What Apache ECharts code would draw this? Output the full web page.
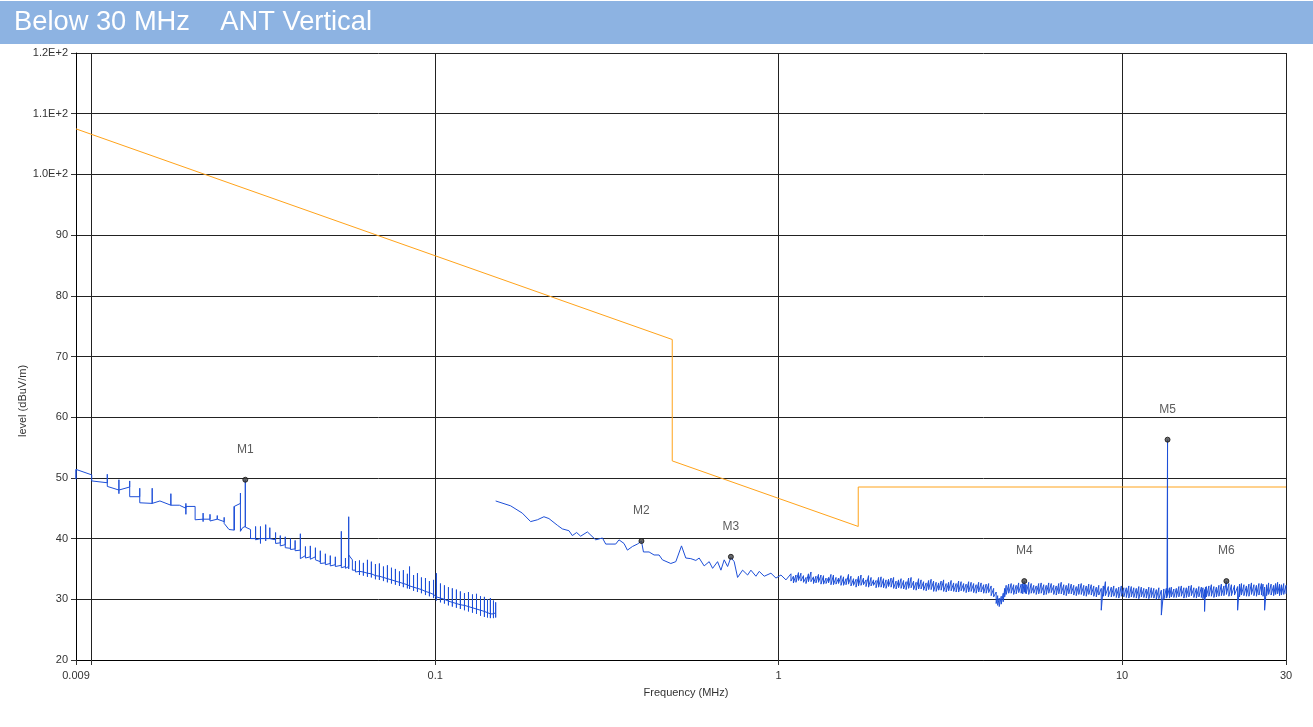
<!DOCTYPE html>
<html>
<head>
<meta charset="utf-8">
<script src="https://cdn.jsdelivr.net/npm/echarts@6/dist/echarts.min.js"></script>
<style>
html,body{margin:0;padding:0;background:#fff;}
#chart{width:1313px;height:727px;}
</style>
</head>
<body>
<div id="chart"></div>
<script>
// ---------- DATA ----------
const titleText = 'Below 30 MHz    ANT Vertical';
const xAxisTitle = 'Frequency (MHz)';
const yAxisTitle = 'level (dBuV/m)';

// Limit line (MHz, dBuV/m)
const limitFreq  = [0.009, 0.49, 0.49, 1.705, 1.705, 30];
const limitLevel = [107.5, 72.8, 52.8, 42.0, 48.5, 48.5];

// Trace below 0.15 MHz: [freq, arrive, tickTop, tickBottom, leave]
const seg1Steps = [
  [0.0090, 51.4, 51.4, 49.8, 51.4],
  [0.0100, 50.5, 50.5, 49.5, 49.5],
  [0.0111, 49.2, 50.6, 48.6, 48.6],
  [0.0120, 48.0, 49.7, 47.4, 48.0],
  [0.0129, 48.5, 49.5, 46.9, 46.9],
  [0.0138, 46.9, 48.3, 45.9, 45.9],
  [0.0150, 45.8, 48.3, 45.8, 45.8],
  [0.0158, 46.2, 46.2, 46.2, 46.2],
  [0.0170, 45.5, 47.4, 45.5, 45.5],
  [0.0180, 45.5, 45.5, 45.5, 45.5],
  [0.0188, 45.0, 45.8, 44.0, 45.3],
  [0.0200, 45.3, 45.3, 43.1, 43.1],
  [0.0211, 43.2, 44.2, 42.8, 43.2],
  [0.0221, 43.2, 44.0, 42.9, 43.2],
  [0.0232, 43.2, 43.8, 43.2, 43.2],
  [0.0243, 42.8, 43.5, 42.5, 42.5],
  [0.0251, 41.5, 41.5, 41.5, 41.5],
  [0.0260, 41.4, 45.3, 41.4, 45.3],
  [0.0271, 45.8, 47.5, 41.2, 41.2],
  [0.0275, 41.8, 41.8, 41.8, 41.8],
  [0.0280, 42.0, 49.7, 41.9, 41.9],
  [0.0290, 41.5, 41.7, 40.0, 40.0],
  [0.0300, 40.0, 42.0, 39.8, 40.0],
  [0.0310, 40.0, 42.0, 39.2, 40.0],
  [0.0321, 40.0, 42.3, 39.6, 40.0],
  [0.0330, 40.0, 41.8, 40.0, 40.0],
  [0.0343, 39.8, 41.0, 39.2, 39.5],
  [0.0354, 39.3, 40.5, 38.8, 39.0],
  [0.0366, 39.0, 40.3, 38.5, 38.7],
  [0.0379, 38.4, 40.0, 38.2, 38.4],
  [0.0391, 38.3, 39.7, 38.0, 38.2],
  [0.0405, 38.1, 40.8, 36.7, 36.9],
  [0.0419, 37.2, 38.7, 36.8, 37.0],
  [0.0433, 37.0, 38.8, 36.6, 36.9],
  [0.0448, 37.0, 38.5, 36.5, 36.8],
  [0.0463, 36.2, 38.0, 35.9, 36.2],
  [0.0479, 36.0, 37.5, 35.7, 36.0],
  [0.0495, 35.9, 37.2, 35.5, 35.8],
  [0.0512, 35.7, 37.0, 35.4, 35.7],
  [0.0533, 35.6, 41.2, 35.2, 35.5],
  [0.0548, 35.4, 36.8, 35.1, 35.4],
  [0.0560, 35.4, 43.6, 35.0, 37.3],
  [0.0574, 36.5, 36.5, 34.8, 34.8],
  [0.0586, 34.8, 36.3, 34.5, 34.8],
  [0.0602, 34.6, 36.4, 34.0, 34.6],
  [0.0618, 34.5, 36.0, 33.9, 34.5],
  [0.0635, 34.3, 36.5, 33.7, 34.3],
  [0.0652, 34.2, 36.2, 33.6, 34.2],
  [0.0670, 33.9, 35.8, 33.3, 33.9],
  [0.0688, 33.8, 35.9, 33.2, 33.8],
  [0.0707, 33.6, 35.4, 33.0, 33.6],
  [0.0726, 33.4, 35.6, 32.8, 33.4],
  [0.0746, 33.2, 35.2, 32.6, 33.2],
  [0.0766, 33.0, 35.0, 32.4, 33.0],
  [0.0787, 32.8, 34.6, 32.2, 32.8],
  [0.0808, 32.6, 34.8, 32.0, 32.6],
  [0.0830, 32.4, 34.2, 31.8, 32.4],
  [0.0842, 32.2, 35.4, 31.7, 32.2],
  [0.0865, 32.0, 34.0, 31.4, 32.0],
  [0.0888, 31.8, 34.3, 31.2, 31.8],
  [0.0912, 31.6, 33.6, 31.0, 31.6],
  [0.0937, 31.3, 33.5, 30.7, 31.3],
  [0.0962, 31.1, 33.0, 30.5, 31.1],
  [0.0989, 30.8, 33.2, 30.2, 30.8],
  [0.1008, 30.4, 34.3, 29.8, 30.4],
  [0.1036, 30.2, 32.6, 29.5, 30.2],
  [0.1064, 30.0, 32.3, 29.3, 30.0],
  [0.1093, 29.7, 32.0, 29.0, 29.7],
  [0.1122, 29.5, 31.8, 28.8, 29.5],
  [0.1153, 29.3, 31.6, 28.6, 29.3],
  [0.1184, 29.1, 31.3, 28.4, 29.1],
  [0.1217, 29.0, 31.0, 28.2, 29.0],
  [0.1250, 28.8, 31.2, 28.0, 28.8],
  [0.1284, 28.6, 30.8, 27.8, 28.6],
  [0.1319, 28.4, 30.9, 27.6, 28.4],
  [0.1355, 28.2, 30.5, 27.3, 28.2],
  [0.1391, 28.0, 30.4, 27.1, 28.0],
  [0.1420, 27.8, 30.0, 27.0, 27.8],
  [0.1448, 27.6, 30.2, 26.9, 27.6],
  [0.1478, 27.6, 29.8, 26.9, 27.6],
  [0.1500, 27.8, 29.5, 27.0, 27.8]
];

// Trace 0.15 - 1.09 MHz (smooth part)
const seg2Freq = [0.150, 0.1658, 0.1793, 0.1896, 0.1984, 0.2073, 0.2144, 0.2268, 0.2345, 0.2452,
  0.2508, 0.2581, 0.2652, 0.2774, 0.2933, 0.3069, 0.3137, 0.3354, 0.3429, 0.3546,
  0.3628, 0.3752, 0.3880, 0.3986, 0.4040, 0.4195, 0.4338, 0.4486, 0.4589, 0.4853,
  0.5019, 0.5214, 0.5366, 0.5550, 0.5740, 0.5868, 0.6069, 0.6277, 0.6422, 0.6640,
  0.6790, 0.6942, 0.7102, 0.7260, 0.7422, 0.7593, 0.7852, 0.8121, 0.8302, 0.8587,
  0.8778, 0.9079, 0.9495, 0.9820, 1.0155, 1.0503];
const seg2Level = [46.2, 45.4, 44.2, 42.8, 43.1, 43.6, 43.3, 42.2, 41.6, 41.3,
  40.5, 41.0, 40.4, 41.1, 39.8, 40.1, 39.1, 39.1, 39.8, 39.2,
  38.1, 38.7, 39.1, 39.6, 37.8, 37.8, 37.3, 37.3, 36.5, 35.9,
  36.2, 38.8, 36.8, 36.7, 36.4, 36.8, 35.5, 36.2, 35.1, 36.2,
  34.8, 36.5, 35.4, 36.9, 36.2, 33.6, 34.8, 34.0, 34.8, 33.8,
  34.6, 33.8, 34.3, 33.5, 34.0, 33.2];

// Trace 1.09 - 30 MHz (noise band: upper / lower excursion per step)
const noiseFreq = [1.086, 1.123, 1.161, 1.201, 1.242, 1.284, 1.328, 1.374, 1.420, 1.469,
  1.519, 1.571, 1.624, 1.680, 1.737, 1.796, 1.858, 1.921, 1.987, 2.054,
  2.125, 2.197, 2.272, 2.350, 2.430, 2.513, 2.598, 2.687, 2.779, 2.874,
  2.972, 3.073, 3.178, 3.286, 3.398, 3.514, 3.634, 3.758, 3.886, 4.019,
  4.156, 4.298, 4.387, 4.507, 4.596, 4.753, 4.915, 5.083, 5.190, 5.257,
  5.436, 5.621, 5.813, 6.012, 6.217, 6.429, 6.648, 6.875, 7.110, 7.352,
  7.603, 7.863, 8.131, 8.409, 8.695, 8.939, 9.299, 9.616, 9.944, 10.284,
  10.635, 10.997, 11.373, 11.761, 12.162, 12.577, 13.006, 13.450, 13.560, 13.909,
  14.383, 14.874, 15.382, 15.907, 16.449, 17.011, 17.380, 17.591, 18.191, 18.812,
  19.454, 20.118, 20.805, 21.690, 22.249, 23.008, 23.793, 24.605, 25.445, 25.990,
  26.700, 27.610, 28.360, 29.100, 30.000];
const noiseHi = [34.2, 34.0, 34.3, 33.6, 34.5, 33.8, 34.0, 33.5, 34.1, 33.6,
  33.9, 33.4, 33.8, 33.3, 34.0, 33.2, 33.6, 33.1, 33.7, 33.2,
  33.5, 33.0, 33.4, 32.9, 33.6, 32.8, 33.2, 32.7, 33.3, 32.8,
  33.0, 32.6, 33.1, 32.6, 32.9, 32.5, 32.8, 32.4, 32.7, 32.5,
  32.2, 31.2, 30.2, 31.0, 32.3, 32.6, 32.3, 32.5, 33.0, 32.4,
  32.6, 32.2, 32.7, 32.3, 32.6, 32.2, 32.8, 32.3, 32.5, 32.1,
  32.6, 32.2, 32.4, 32.0, 31.8, 32.9, 32.0, 31.8, 32.2, 31.9,
  32.1, 31.8, 32.0, 31.7, 31.9, 31.6, 31.5, 31.8, 56.3, 32.0,
  31.8, 32.2, 31.9, 32.3, 31.8, 32.0, 31.6, 32.1, 32.4, 32.0,
  32.5, 33.0, 32.4, 32.1, 32.6, 32.2, 32.7, 32.3, 32.6, 32.0,
  32.7, 32.3, 32.8, 32.4, 32.3];
const noiseLo = [33.0, 32.8, 33.0, 32.6, 32.9, 32.7, 32.5, 32.6, 32.4, 32.5,
  32.3, 32.4, 32.2, 32.0, 32.3, 32.1, 32.2, 31.9, 32.0, 31.8,
  32.0, 31.7, 31.8, 31.6, 31.9, 31.5, 31.7, 31.4, 31.6, 31.3,
  31.5, 31.2, 31.4, 31.2, 31.4, 31.1, 31.3, 31.0, 31.2, 31.0,
  30.6, 29.3, 28.8, 29.6, 30.8, 31.0, 30.9, 31.0, 31.2, 30.9,
  31.0, 30.8, 31.0, 30.8, 31.1, 30.7, 30.9, 30.6, 30.9, 30.6,
  30.8, 30.5, 30.7, 30.4, 28.2, 30.6, 30.4, 30.3, 30.5, 30.3,
  30.4, 30.2, 30.4, 30.2, 30.3, 30.0, 27.4, 30.2, 30.6, 30.4,
  30.3, 30.5, 30.3, 30.6, 30.2, 30.3, 28.0, 30.4, 30.5, 30.4,
  30.6, 30.8, 30.6, 28.2, 30.7, 30.5, 30.8, 30.5, 30.7, 28.2,
  30.8, 30.6, 30.9, 30.7, 30.9];

// Intermediate noise readings between the steps above
const noiseMidFreq = [1.104, 1.142, 1.181, 1.221, 1.263, 1.306, 1.351, 1.397, 1.444, 1.494,
  1.545, 1.597, 1.652, 1.708, 1.766, 1.827, 1.889, 1.954, 2.020, 2.089,
  2.161, 2.234, 2.311, 2.390, 2.471, 2.555, 2.642, 2.733, 2.826, 2.923,
  3.022, 3.125, 3.232, 3.342, 3.456, 3.574, 3.696, 3.822, 3.952, 4.087,
  4.226, 4.342, 4.447, 4.551, 4.674, 4.833, 4.998, 5.136, 5.223, 5.346,
  5.528, 5.716, 5.912, 6.114, 6.322, 6.538, 6.761, 6.992, 7.230, 7.477,
  7.732, 7.996, 8.269, 8.551, 8.816, 9.117, 9.456, 9.779, 10.113, 10.458,
  10.815, 11.183, 11.566, 11.960, 12.368, 12.790, 13.226, 13.505, 13.733, 14.144,
  14.627, 15.126, 15.642, 16.176, 16.728, 17.194, 17.485, 17.889, 18.499, 19.131,
  19.783, 20.459, 21.243, 21.968, 22.626, 23.398, 24.196, 25.022, 25.716, 26.343,
  27.152, 27.983, 28.728, 29.547];
const noiseMidHi = [33.8, 34.4, 33.9, 34.2, 33.7, 34.1, 33.9, 33.6, 34.0, 33.5,
  33.7, 34.1, 33.4, 33.8, 33.5, 33.9, 33.2, 33.6, 33.4, 33.3,
  33.6, 33.2, 33.1, 33.5, 33.0, 33.4, 32.9, 33.1, 33.0, 32.7,
  33.2, 32.8, 32.7, 33.0, 32.6, 32.9, 32.6, 32.8, 32.4, 32.6,
  31.8, 30.6, 30.5, 31.8, 32.5, 32.4, 32.7, 32.6, 32.5, 32.8,
  32.3, 32.6, 32.4, 32.7, 32.3, 32.6, 32.4, 32.6, 32.3, 32.5,
  32.3, 32.5, 32.2, 32.3, 32.2, 32.1, 32.2, 32.0, 31.9, 32.2,
  31.9, 32.1, 31.8, 32.0, 31.8, 31.9, 31.7, 31.6, 31.9, 31.7,
  32.1, 31.9, 32.2, 31.9, 32.1, 31.9, 32.0, 32.2, 32.1, 32.3,
  32.2, 32.6, 32.3, 32.5, 32.4, 32.5, 32.4, 32.6, 32.5, 32.4,
  32.5, 32.6, 32.5, 32.6];
const noiseMidLo = [32.7, 33.1, 32.8, 32.9, 32.6, 32.8, 32.5, 32.7, 32.4, 32.6,
  32.3, 32.5, 32.3, 32.2, 32.4, 32.0, 32.3, 32.0, 31.9, 32.1,
  31.8, 31.9, 31.7, 31.8, 31.6, 31.7, 31.5, 31.6, 31.3, 31.5,
  31.3, 31.4, 31.3, 31.2, 31.3, 31.2, 31.1, 31.2, 31.0, 31.1,
  30.4, 29.0, 29.2, 30.4, 31.0, 30.8, 31.1, 30.9, 31.0, 30.8,
  31.0, 30.9, 30.7, 31.0, 30.8, 30.9, 30.7, 30.9, 30.7, 30.8,
  30.6, 30.8, 30.5, 30.7, 30.5, 30.4, 30.5, 30.2, 30.4, 30.2,
  30.3, 30.1, 30.3, 30.1, 30.2, 30.1, 30.0, 30.3, 30.2, 30.3,
  30.4, 30.2, 30.4, 30.3, 30.4, 30.1, 30.3, 30.5, 30.3, 30.5,
  30.6, 30.5, 30.7, 30.4, 30.6, 30.5, 30.6, 30.7, 30.5, 30.6,
  30.7, 30.8, 30.6, 30.8];

// Markers
const markerNames = ['M1', 'M2', 'M3', 'M4', 'M5', 'M6'];
const markerFreq  = [0.0280, 0.3986, 0.7260, 5.190, 13.560, 20.118];
const markerLevel = [49.7, 39.6, 37.0, 33.0, 56.3, 33.0];

// Axis ranges / ticks
const xMin = 0.009, xMax = 30;
const yMin = 20, yMax = 120, yStep = 10;
const hiddenXLabels = [0.01];

// ---------- BUILD ----------
const limitData = limitFreq.map((f, i) => [f, limitLevel[i]]);
const seg1Data = [];
seg1Steps.forEach(s => {
  seg1Data.push([s[0], s[1]], [s[0], s[2]], [s[0], s[3]], [s[0], s[4]]);
});
const seg2Data = seg2Freq.map((f, i) => [f, seg2Level[i]]);
noiseFreq.forEach((f, i) => {
  seg2Data.push([f, noiseHi[i]], [f, noiseLo[i]]);
  if (i < noiseMidFreq.length) {
    seg2Data.push([noiseMidFreq[i], noiseMidHi[i]], [noiseMidFreq[i], noiseMidLo[i]]);
  }
});
const markerData = markerFreq.map((f, i) => [f, markerLevel[i], markerNames[i]]);

const FONT = 'Liberation Sans';
const traceColor = '#1d4fd8';

const chart = echarts.init(document.getElementById('chart'), null, {renderer: 'canvas'});
chart.setOption({
  animation: false,
  backgroundColor: '#ffffff',
  grid: {left: 76, right: 27, top: 53, bottom: 67, show: false},
  graphic: [
    {type: 'rect', left: 0, top: 1, shape: {width: 1313, height: 43}, style: {fill: '#8db3e2'}, z: 0},
    {type: 'text', x: 14, y: 22, style: {text: titleText, fill: '#ffffff', font: '27.3px "Liberation Sans", Arial, sans-serif', verticalAlign: 'middle'}, z: 1},
    {type: 'text', x: 23, y: 401, rotation: Math.PI / 2,
      style: {text: yAxisTitle, fill: '#333', font: '11px "Liberation Sans", Arial, sans-serif', align: 'center', verticalAlign: 'middle'}},
    {type: 'text', x: 686, y: 693,
      style: {text: xAxisTitle, fill: '#333', font: '11px "Liberation Sans", Arial, sans-serif', align: 'center', verticalAlign: 'middle'}}
  ],
  xAxis: {
    type: 'log', logBase: 10, min: xMin, max: xMax,
    axisLine: {show: true, onZero: false, lineStyle: {color: '#000', width: 1}},
    axisTick: {show: true, length: 5, inside: false, lineStyle: {color: '#333'}},
    axisLabel: {
      show: true, margin: 10, color: '#333', fontFamily: FONT, fontSize: 11,
      showMinLabel: true, showMaxLabel: true, hideOverlap: false,
      formatter: v => {
        const r = +(+v).toPrecision(4);
        if (hiddenXLabels.some(h => Math.abs(h - r) < 1e-9)) return '';
        return String(r);
      }
    },
    splitLine: {show: true, lineStyle: {color: '#222', width: 1}},
    minorTick: {show: false}
  },
  yAxis: {
    type: 'value', min: yMin, max: yMax, interval: yStep,
    axisLine: {show: true, lineStyle: {color: '#000', width: 1}},
    axisTick: {show: true, length: 5, inside: false, lineStyle: {color: '#333'}},
    axisLabel: {
      margin: 8, color: '#333', fontFamily: FONT, fontSize: 11,
      formatter: v => v >= 100 ? (v / 100).toFixed(1) + 'E+2' : String(v)
    },
    splitLine: {show: true, lineStyle: {color: '#222', width: 1}}
  },
  series: [
    {
      name: 'Limit', type: 'line', data: limitData, showSymbol: false, symbol: 'none',
      lineStyle: {color: '#ffa31a', width: 1}, z: 3
    },
    {
      name: 'Trace1', type: 'line', data: seg1Data, showSymbol: false, symbol: 'none',
      lineStyle: {color: traceColor, width: 1}, z: 4
    },
    {
      name: 'Trace2', type: 'line', data: seg2Data, showSymbol: false, symbol: 'none',
      lineStyle: {color: traceColor, width: 1}, z: 4
    },
    {
      name: 'Markers', type: 'scatter', data: markerData, symbol: 'circle', symbolSize: 5,
      itemStyle: {color: '#444', borderColor: '#111', borderWidth: 1},
      label: {show: true, position: 'top', distance: 21, formatter: p => p.data[2],
        color: '#333', fontFamily: FONT, fontSize: 12},
      z: 6
    }
  ]
});
</script>
</body>
</html>
